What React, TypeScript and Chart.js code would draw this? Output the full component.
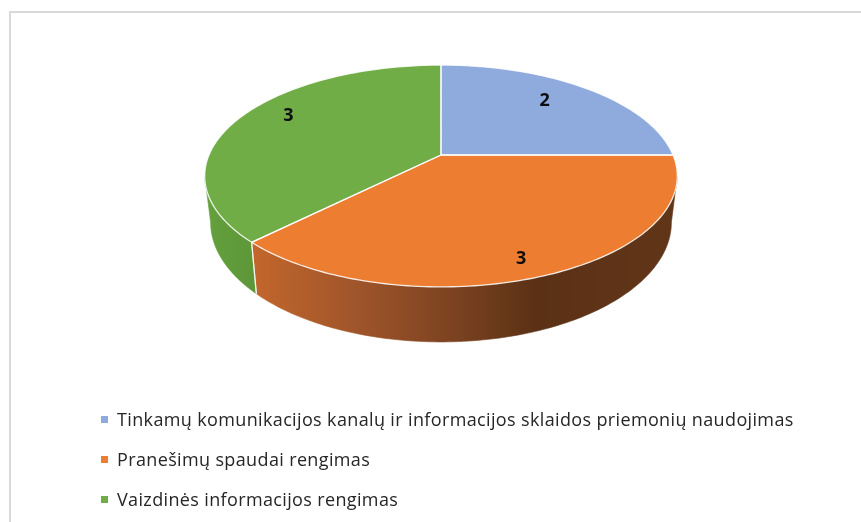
import React, { useEffect, useRef } from "react";
import { Chart, registerables } from "chart.js";

Chart.register(...registerables);

const categories = [
  "Tinkamų komunikacijos kanalų ir informacijos sklaidos priemonių naudojimas",
  "Pranešimų spaudai rengimas",
  "Vaizdinės informacijos rengimas",
];
const values = [2, 3, 3];
const topColors = ["#8FAADC", "#ED7D31", "#70AD47"];

// projection / style constants (relative to the library's outer radius)
const SX = 1.497;
const SY = 0.69;
const SH = 0.288;
const K = 0.189;
const BOTTOM_SHRINK = 0.975;
const LABEL_R = [0.69, 0.78, 0.75];
const LABEL_DY = [-6, 15, -10];

function proj(el: any, th: number, bottom = false): [number, number] {
  const R = el.outerRadius;
  const u = Math.cos(th);
  const v = Math.sin(th);
  const w = 1 - K * v;
  let x = el.x + (R * SX * u) / w;
  let y = el.y + (R * SY * v) / w;
  if (bottom) {
    x = el.x + (x - el.x) * BOTTOM_SHRINK;
    y += (R * SH) / w;
  }
  return [x, y];
}

function projR(el: any, th: number, r: number): [number, number] {
  const R = el.outerRadius;
  const u = Math.cos(th) * r;
  const v = Math.sin(th) * r;
  const w = 1 - K * v;
  return [el.x + (R * SX * u) / w, el.y + (R * SY * v) / w];
}

const pie3d = {
  id: "pie3d",
  beforeDatasetsDraw(chart: any) {
    const ctx = chart.ctx as CanvasRenderingContext2D;
    const meta = chart.getDatasetMeta(0);
    const els = meta.data as any[];
    if (!els.length) return false;
    const e0 = els[0];
    const thR = Math.asin(K);
    const thL = Math.PI - Math.asin(K);
    const xL = proj(e0, thL)[0];
    const xRr = proj(e0, thR)[0];
    const steps = 120;

    const sideFill = (i: number) => {
      if (i === 1) {
        const g = ctx.createLinearGradient(xL, 0, xRr, 0);
        const span = xRr - xL;
        const f = (x: number) => Math.min(1, Math.max(0, (x - xL) / span));
        g.addColorStop(0, "#c8692d");
        g.addColorStop(f(255), "#c2662c");
        g.addColorStop(f(355), "#a0552a");
        g.addColorStop(f(455), "#7b4220");
        g.addColorStop(f(535), "#5b3115");
        g.addColorStop(1, "#613518");
        return g;
      }
      if (i === 2) {
        const g = ctx.createLinearGradient(xL, 0, xL + 60, 0);
        g.addColorStop(0, "#64a03d");
        g.addColorStop(1, "#5c9537");
        return g;
      }
      return "#6a82ad";
    };

    ctx.save();
    // side walls (front-facing part only)
    els.forEach((el: any, i: number) => {
      let a = Math.max(el.startAngle, thR);
      let b = Math.min(el.endAngle, thL);
      if (b <= a) return;
      ctx.beginPath();
      for (let s = 0; s <= steps; s++) {
        const t = a + ((b - a) * s) / steps;
        const [x, y] = proj(el, t);
        if (s === 0) ctx.moveTo(x, y);
        else ctx.lineTo(x, y);
      }
      for (let s = steps; s >= 0; s--) {
        const t = a + ((b - a) * s) / steps;
        const [x, y] = proj(el, t, true);
        ctx.lineTo(x, y);
      }
      ctx.closePath();
      ctx.fillStyle = sideFill(i) as any;
      ctx.fill();
      ctx.strokeStyle = sideFill(i) as any;
      ctx.lineWidth = 0.6;
      ctx.stroke();
    });
    // side seams at slice boundaries
    els.forEach((el: any) => {
      [el.startAngle, el.endAngle].forEach((t: number) => {
        if (t > thR + 0.01 && t < thL - 0.01) {
          const [x1, y1] = proj(el, t);
          const [x2, y2] = proj(el, t, true);
          ctx.beginPath();
          ctx.moveTo(x1, y1);
          ctx.lineTo(x2, y2);
          ctx.strokeStyle = "rgba(255,255,255,0.75)";
          ctx.lineWidth = 1.2;
          ctx.stroke();
        }
      });
    });
    // top faces
    els.forEach((el: any) => {
      ctx.beginPath();
      ctx.moveTo(el.x, el.y);
      for (let s = 0; s <= steps; s++) {
        const t = el.startAngle + ((el.endAngle - el.startAngle) * s) / steps;
        const [x, y] = proj(el, t);
        ctx.lineTo(x, y);
      }
      ctx.closePath();
      ctx.fillStyle = el.options.backgroundColor;
      ctx.fill();
    });
    els.forEach((el: any) => {
      ctx.beginPath();
      ctx.moveTo(el.x, el.y);
      for (let s = 0; s <= steps; s++) {
        const t = el.startAngle + ((el.endAngle - el.startAngle) * s) / steps;
        const [x, y] = proj(el, t);
        ctx.lineTo(x, y);
      }
      ctx.closePath();
      ctx.strokeStyle = "rgba(255,255,255,0.85)";
      ctx.lineWidth = 1.3;
      ctx.lineJoin = "round";
      ctx.stroke();
    });
    // data labels
    const data = chart.data.datasets[0].data;
    ctx.fillStyle = "#0d0d0d";
    ctx.font = "bold 18px 'Open Sans', 'Liberation Sans', sans-serif";
    ctx.textAlign = "center";
    ctx.textBaseline = "middle";
    els.forEach((el: any, i: number) => {
      const mid = (el.startAngle + el.endAngle) / 2;
      const [x, y] = projR(el, mid, LABEL_R[i]);
      ctx.fillText(String(data[i]), x, y + LABEL_DY[i]);
    });
    ctx.restore();
    return false;
  },
};

export default function App() {
  const ref = useRef<HTMLCanvasElement>(null);
  useEffect(() => {
    if (!ref.current) return;
    const chart = new Chart(ref.current, {
      type: "pie",
      data: {
        labels: categories,
        datasets: [
          {
            data: values,
            backgroundColor: topColors,
            borderWidth: 0,
          },
        ],
      },
      options: {
        responsive: false,
        animation: false,
        devicePixelRatio: 1,
        layout: { padding: { left: 21, right: 0, top: 0, bottom: 212 } },
        plugins: {
          legend: { display: false },
          tooltip: { enabled: false },
        },
      },
      plugins: [pie3d],
    } as any);
    return () => chart.destroy();
  }, []);

  return (
    <div
      style={{
        position: "fixed",
        left: 0,
        top: 0,
        width: 861,
        height: 522,
        overflow: "hidden",
        background: "#fff",
      }}
    >
      <div
        style={{
          position: "absolute",
          left: 9,
          top: 11,
          width: 1000,
          height: 1000,
          border: "2px solid #d9d9d9",
          boxSizing: "border-box",
        }}
      />
      <canvas
        ref={ref}
        width={861}
        height={522}
        style={{ position: "absolute", left: 0, top: 0, width: 861, height: 522 }}
      />
      {categories.map((c, i) => (
        <div
          key={c}
          style={{
            position: "absolute",
            left: 101,
            top: 408 + i * 40,
            height: 22,
            display: "flex",
            alignItems: "center",
            fontFamily: "'Open Sans', 'Liberation Sans', sans-serif",
            fontSize: 18,
            lineHeight: "22px",
            letterSpacing: "0.36px",
            color: "#262626",
            whiteSpace: "nowrap",
          }}
        >
          <span
            style={{
              display: "inline-block",
              width: 7,
              height: 7,
              background: topColors[i],
              marginRight: 9,
              marginTop: 1,
            }}
          />
          <span>{c}</span>
        </div>
      ))}
    </div>
  );
}
